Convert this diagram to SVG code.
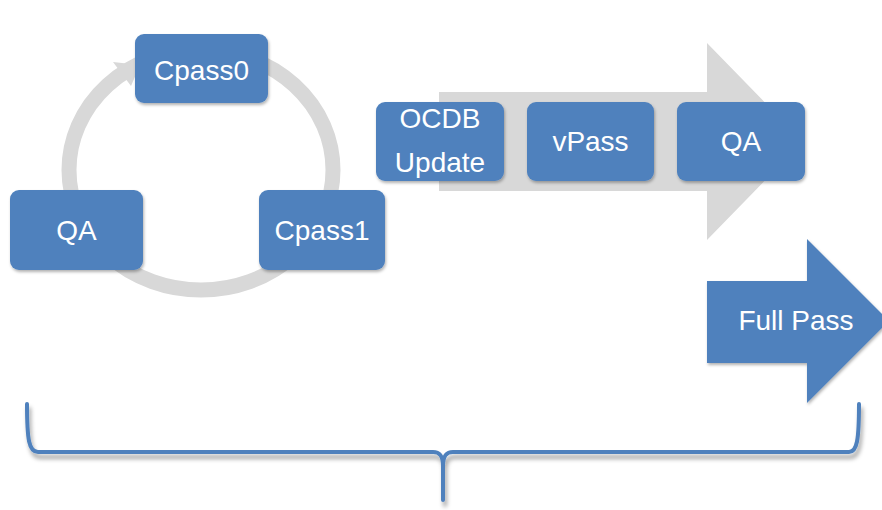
<svg xmlns="http://www.w3.org/2000/svg" width="882" height="510" viewBox="0 0 882 510">
  <defs>
    <filter id="sh" x="-10%" y="-10%" width="130%" height="140%">
      <feDropShadow dx="1" dy="2" stdDeviation="1.5" flood-color="#000" flood-opacity="0.3"/>
    </filter>
    <filter id="bsh" x="-5%" y="-20%" width="110%" height="160%">
      <feDropShadow dx="2" dy="5" stdDeviation="2" flood-color="#000" flood-opacity="0.35"/>
    </filter>
  </defs>
  <style>
    .box { fill: #4F81BD; filter: url(#sh); }
    .lbl { fill: #FFFFFF; font-family: "Liberation Sans", Arial, sans-serif; font-size: 28px; text-anchor: middle; }
    .grey { fill: #D8D8D8; }
  </style>

  <g id="connectors">
    <ellipse id="cycle-ring" cx="201" cy="170" rx="132" ry="120" fill="none" stroke="#D8D8D8" stroke-width="15"/>
    <polygon id="cycle-arrowhead" class="grey" points="113,62 131,86 140,65"/>
    <polygon id="process-arrow" class="grey" points="439,92 707,92 707,43 803,141.5 707,240 707,191 439,191"/>
    <path id="brace" d="M27,404 C27,440 29,452 38,452 L433,452 C440,452 443,456 443,466 L443,500 M443,466 C443,456 446,452 453,452 L849,452 C857,452 859,440 859,404" fill="none" stroke="#4F81BD" stroke-width="4" stroke-linecap="round" stroke-linejoin="round" filter="url(#bsh)"/>
  </g>

  <g id="node-cpass0">
    <rect class="box" x="135" y="34" width="133" height="69" rx="9"/>
    <text class="lbl" x="201.5" y="80">Cpass0</text>
  </g>
  <g id="node-qa-cycle">
    <rect class="box" x="10" y="190" width="133" height="80" rx="9"/>
    <text class="lbl" x="76.5" y="240">QA</text>
  </g>
  <g id="node-cpass1">
    <rect class="box" x="259" y="190" width="126" height="80" rx="9"/>
    <text class="lbl" x="322" y="240">Cpass1</text>
  </g>
  <g id="node-ocdb">
    <rect class="box" x="376" y="102" width="128" height="79" rx="9"/>
    <text class="lbl" x="440" y="128">OCDB</text>
    <text class="lbl" x="440" y="172">Update</text>
  </g>
  <g id="node-vpass">
    <rect class="box" x="527" y="102" width="127" height="79" rx="9"/>
    <text class="lbl" x="590.5" y="151">vPass</text>
  </g>
  <g id="node-qa-process">
    <rect class="box" x="677" y="102" width="128" height="79" rx="9"/>
    <text class="lbl" x="741" y="151">QA</text>
  </g>
  <g id="node-fullpass">
    <polygon points="707,281 807,281 807,239 889,321 807,403 807,363 707,363" fill="#4F81BD" filter="url(#sh)"/>
    <text class="lbl" x="796" y="330">Full Pass</text>
  </g>
</svg>
